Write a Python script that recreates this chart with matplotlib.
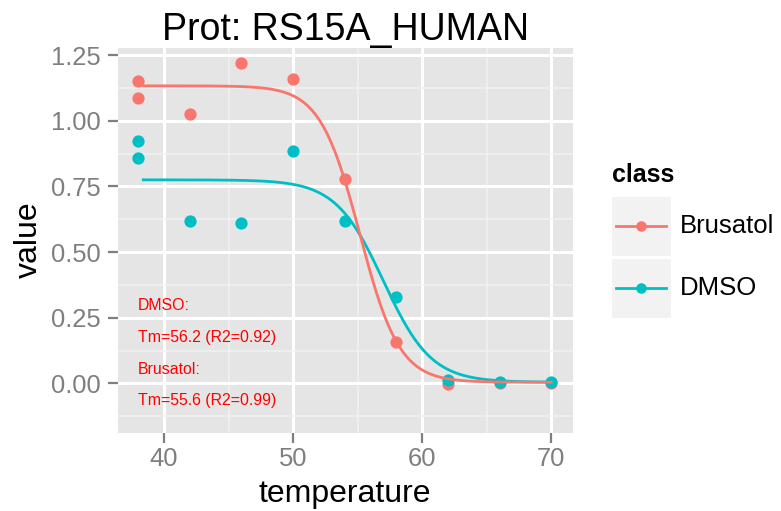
import numpy as np
import matplotlib
matplotlib.use("Agg")
import matplotlib.pyplot as plt
from matplotlib.lines import Line2D
from matplotlib.patches import Rectangle

RED = "#F8766D"
TEAL = "#00BFC4"
PANEL = "#E5E5E5"
MINOR = "#F2F2F2"
TICK = "#7F7F7F"

plt.rcParams.update({
    "font.family": ["Liberation Sans", "DejaVu Sans"],
})

# ---- data ----
classes = ["Brusatol", "DMSO"]
temperature = [38, 38, 42, 46, 50, 54, 58, 62, 66, 70]
value_brusatol = [1.150, 1.085, 1.024, 1.219, 1.158, 0.778, 0.157, -0.002, 0.002, 0.002]
value_dmso = [0.924, 0.859, 0.617, 0.610, 0.886, 0.617, 0.330, 0.013, 0.004, 0.004]

# fitted melting curves: top, bottom, midpoint, slope
fit_brusatol = (1.133, 0.004, 55.17, 0.65)
fit_dmso = (0.775, 0.004, 57.0, 0.54)
fit_range = (38.4, 70)

notes = ["DMSO:", "Tm=56.2 (R2=0.92)", "Brusatol:", "Tm=55.6 (R2=0.99)"]

xticks = [40, 50, 60, 70]
yticks = [0.0, 0.25, 0.5, 0.75, 1.0, 1.25]


def melt(t, top, bottom, mid, k):
    return bottom + (top - bottom) / (1 + np.exp(k * (t - mid)))


W, H = 781, 511
fig = plt.figure(figsize=(W / 100, H / 100), dpi=100)


def fx(px):
    return px / W


def fy(py):
    return 1 - py / H


ax = fig.add_axes([fx(118), fy(432.7), fx(573) - fx(118), fy(48) - fy(432.7)])
ax.set_facecolor(PANEL)
for s in ax.spines.values():
    s.set_visible(False)

ax.set_xlim(36.44, 71.68)
ax.set_ylim(-0.188, 1.277)
ax.set_xticks(xticks)
ax.set_xticklabels([str(t) for t in xticks])
ax.set_yticks(yticks)
ax.set_yticklabels([f"{v:.2f}" for v in yticks])
ax.set_xticks([45, 55, 65], minor=True)
ax.set_yticks(np.arange(-0.125, 1.25, 0.25), minor=True)
ax.grid(which="minor", color=MINOR, lw=1.1)
ax.grid(which="major", color="white", lw=2.2)
ax.set_axisbelow(True)
ax.tick_params(which="minor", length=0)
ax.tick_params(which="major", length=7.2, width=1.6, color=TICK,
               labelcolor=TICK, labelsize=18.4)
ax.tick_params(axis="x", pad=3)
ax.tick_params(axis="y", pad=5.5)

ax.scatter(temperature, value_brusatol, s=78, color=RED, lw=0, zorder=3)
ax.scatter(temperature, value_dmso, s=78, color=TEAL, lw=0, zorder=3)

ts = np.linspace(fit_range[0], fit_range[1], 300)
ax.plot(ts, melt(ts, *fit_dmso), color=TEAL, lw=2.0, zorder=4)
ax.plot(ts, melt(ts, *fit_brusatol), color=RED, lw=2.0, zorder=4)

for i, line in enumerate(notes):
    ax.text(38, 0.279 - i * 0.1208, line, color="#FF0000", fontsize=11.4,
            ha="left", va="baseline", zorder=5)

fig.text(fx(345), fy(39.5), "Prot: RS15A_HUMAN", ha="center", va="baseline",
         fontsize=27, color="black")
fig.text(fx(345), fy(501.5), "temperature", ha="center", va="baseline",
         fontsize=23, color="black")
fig.text(fx(29), fy(240), "value", ha="center", va="center", rotation=90,
         fontsize=23, color="black")

# ---- legend ----
fig.text(fx(612), fy(182), "class", ha="left", va="baseline", fontsize=18,
         fontweight="bold", color="black")
key_tops = [196.7, 258.7]
for cls, col, top in zip(classes, [RED, TEAL], key_tops):
    fig.patches.append(Rectangle((fx(611.7), fy(top + 59)), fx(59), 59 / H,
                                 transform=fig.transFigure, facecolor=MINOR,
                                 edgecolor="none"))
    cy = fy(top + 29.5)
    fig.lines.append(Line2D([fx(616), fx(666)], [cy, cy], color=col, lw=2.0,
                            transform=fig.transFigure))
    fig.lines.append(Line2D([fx(641)], [cy], marker="o", ms=7.6, color=col,
                            mew=0, transform=fig.transFigure))
    fig.text(fx(680), fy(top + 36.6), cls, ha="left", va="baseline",
             fontsize=18.5, color="black")

fig.savefig("out.png", dpi=100)
